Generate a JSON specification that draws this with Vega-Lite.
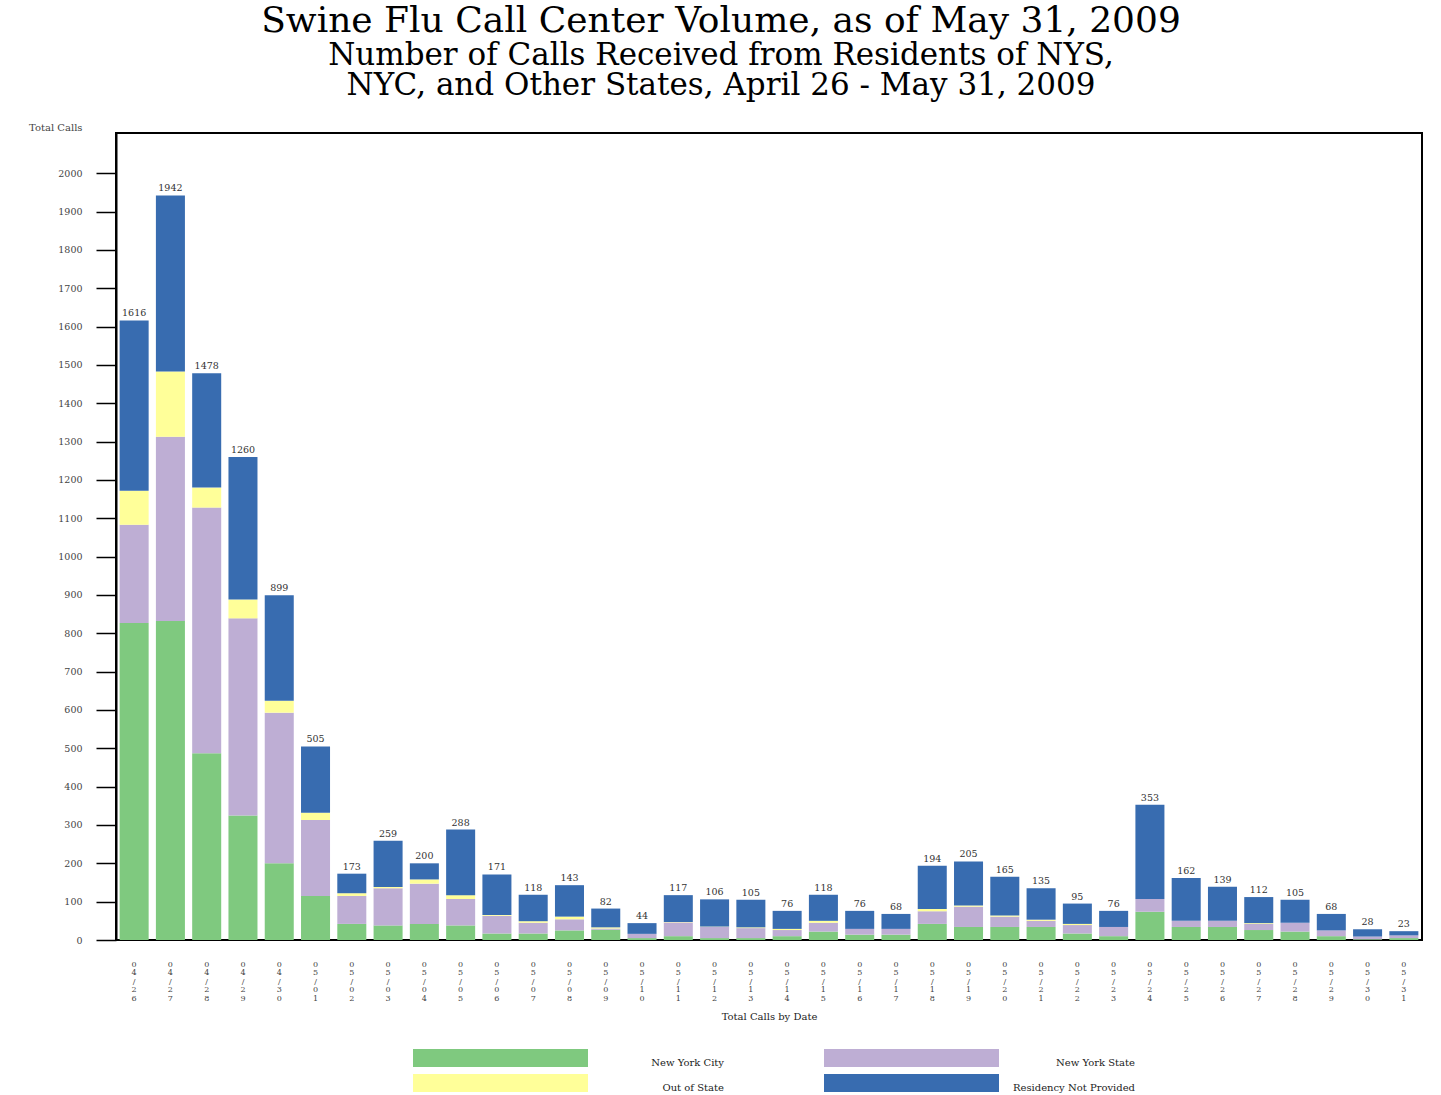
{
  "$schema": "https://vega.github.io/schema/vega-lite/v6.json",
  "width": 1306,
  "height": 807,
  "autosize": {"type": "none"},
  "padding": {"left": 116, "top": 133, "right": 19, "bottom": 155},
  "background": "white",
  "title": {
    "text": "Swine Flu Call Center Volume, as of May 31, 2009",
    "subtitle": ["Number of Calls Received from Residents of NYS,", "NYC, and Other States, April 26 - May 31, 2009"],
    "font": "DejaVu Serif",
    "fontSize": 36,
    "fontWeight": "normal",
    "color": "black",
    "subtitleFont": "DejaVu Serif",
    "subtitleFontSize": 31,
    "subtitleColor": "black",
    "subtitleLineHeight": 30,
    "subtitlePadding": 1,
    "anchor": "middle",
    "frame": "group",
    "dx": -48,
    "offset": 20
  },
  "data": {
    "values": [
      {"date": "04/26", "cat": "New York City", "n": 827}, {"date": "04/26", "cat": "New York State", "n": 256}, {"date": "04/26", "cat": "Out of State", "n": 89}, {"date": "04/26", "cat": "Residency Not Provided", "n": 444},
      {"date": "04/27", "cat": "New York City", "n": 832}, {"date": "04/27", "cat": "New York State", "n": 481}, {"date": "04/27", "cat": "Out of State", "n": 170}, {"date": "04/27", "cat": "Residency Not Provided", "n": 459},
      {"date": "04/28", "cat": "New York City", "n": 487}, {"date": "04/28", "cat": "New York State", "n": 641}, {"date": "04/28", "cat": "Out of State", "n": 52}, {"date": "04/28", "cat": "Residency Not Provided", "n": 298},
      {"date": "04/29", "cat": "New York City", "n": 325}, {"date": "04/29", "cat": "New York State", "n": 514}, {"date": "04/29", "cat": "Out of State", "n": 49}, {"date": "04/29", "cat": "Residency Not Provided", "n": 372},
      {"date": "04/30", "cat": "New York City", "n": 200}, {"date": "04/30", "cat": "New York State", "n": 393}, {"date": "04/30", "cat": "Out of State", "n": 31}, {"date": "04/30", "cat": "Residency Not Provided", "n": 275},
      {"date": "05/01", "cat": "New York City", "n": 115}, {"date": "05/01", "cat": "New York State", "n": 198}, {"date": "05/01", "cat": "Out of State", "n": 19}, {"date": "05/01", "cat": "Residency Not Provided", "n": 173},
      {"date": "05/02", "cat": "New York City", "n": 42}, {"date": "05/02", "cat": "New York State", "n": 73}, {"date": "05/02", "cat": "Out of State", "n": 7}, {"date": "05/02", "cat": "Residency Not Provided", "n": 51},
      {"date": "05/03", "cat": "New York City", "n": 38}, {"date": "05/03", "cat": "New York State", "n": 97}, {"date": "05/03", "cat": "Out of State", "n": 3}, {"date": "05/03", "cat": "Residency Not Provided", "n": 121},
      {"date": "05/04", "cat": "New York City", "n": 42}, {"date": "05/04", "cat": "New York State", "n": 105}, {"date": "05/04", "cat": "Out of State", "n": 11}, {"date": "05/04", "cat": "Residency Not Provided", "n": 42},
      {"date": "05/05", "cat": "New York City", "n": 38}, {"date": "05/05", "cat": "New York State", "n": 69}, {"date": "05/05", "cat": "Out of State", "n": 10}, {"date": "05/05", "cat": "Residency Not Provided", "n": 171},
      {"date": "05/06", "cat": "New York City", "n": 17}, {"date": "05/06", "cat": "New York State", "n": 46}, {"date": "05/06", "cat": "Out of State", "n": 2}, {"date": "05/06", "cat": "Residency Not Provided", "n": 106},
      {"date": "05/07", "cat": "New York City", "n": 17}, {"date": "05/07", "cat": "New York State", "n": 28}, {"date": "05/07", "cat": "Out of State", "n": 4}, {"date": "05/07", "cat": "Residency Not Provided", "n": 69},
      {"date": "05/08", "cat": "New York City", "n": 25}, {"date": "05/08", "cat": "New York State", "n": 29}, {"date": "05/08", "cat": "Out of State", "n": 7}, {"date": "05/08", "cat": "Residency Not Provided", "n": 82},
      {"date": "05/09", "cat": "New York City", "n": 27}, {"date": "05/09", "cat": "New York State", "n": 3}, {"date": "05/09", "cat": "Out of State", "n": 3}, {"date": "05/09", "cat": "Residency Not Provided", "n": 49},
      {"date": "05/10", "cat": "New York City", "n": 5}, {"date": "05/10", "cat": "New York State", "n": 11}, {"date": "05/10", "cat": "Out of State", "n": 0}, {"date": "05/10", "cat": "Residency Not Provided", "n": 28},
      {"date": "05/11", "cat": "New York City", "n": 10}, {"date": "05/11", "cat": "New York State", "n": 36}, {"date": "05/11", "cat": "Out of State", "n": 1}, {"date": "05/11", "cat": "Residency Not Provided", "n": 70},
      {"date": "05/12", "cat": "New York City", "n": 5}, {"date": "05/12", "cat": "New York State", "n": 29}, {"date": "05/12", "cat": "Out of State", "n": 1}, {"date": "05/12", "cat": "Residency Not Provided", "n": 71},
      {"date": "05/13", "cat": "New York City", "n": 5}, {"date": "05/13", "cat": "New York State", "n": 26}, {"date": "05/13", "cat": "Out of State", "n": 2}, {"date": "05/13", "cat": "Residency Not Provided", "n": 72},
      {"date": "05/14", "cat": "New York City", "n": 10}, {"date": "05/14", "cat": "New York State", "n": 16}, {"date": "05/14", "cat": "Out of State", "n": 3}, {"date": "05/14", "cat": "Residency Not Provided", "n": 47},
      {"date": "05/15", "cat": "New York City", "n": 22}, {"date": "05/15", "cat": "New York State", "n": 23}, {"date": "05/15", "cat": "Out of State", "n": 5}, {"date": "05/15", "cat": "Residency Not Provided", "n": 68},
      {"date": "05/16", "cat": "New York City", "n": 14}, {"date": "05/16", "cat": "New York State", "n": 15}, {"date": "05/16", "cat": "Out of State", "n": 0}, {"date": "05/16", "cat": "Residency Not Provided", "n": 47},
      {"date": "05/17", "cat": "New York City", "n": 14}, {"date": "05/17", "cat": "New York State", "n": 15}, {"date": "05/17", "cat": "Out of State", "n": 0}, {"date": "05/17", "cat": "Residency Not Provided", "n": 39},
      {"date": "05/18", "cat": "New York City", "n": 42}, {"date": "05/18", "cat": "New York State", "n": 33}, {"date": "05/18", "cat": "Out of State", "n": 6}, {"date": "05/18", "cat": "Residency Not Provided", "n": 113},
      {"date": "05/19", "cat": "New York City", "n": 34}, {"date": "05/19", "cat": "New York State", "n": 53}, {"date": "05/19", "cat": "Out of State", "n": 3}, {"date": "05/19", "cat": "Residency Not Provided", "n": 115},
      {"date": "05/20", "cat": "New York City", "n": 34}, {"date": "05/20", "cat": "New York State", "n": 27}, {"date": "05/20", "cat": "Out of State", "n": 3}, {"date": "05/20", "cat": "Residency Not Provided", "n": 101},
      {"date": "05/21", "cat": "New York City", "n": 34}, {"date": "05/21", "cat": "New York State", "n": 16}, {"date": "05/21", "cat": "Out of State", "n": 3}, {"date": "05/21", "cat": "Residency Not Provided", "n": 82},
      {"date": "05/22", "cat": "New York City", "n": 17}, {"date": "05/22", "cat": "New York State", "n": 22}, {"date": "05/22", "cat": "Out of State", "n": 3}, {"date": "05/22", "cat": "Residency Not Provided", "n": 53},
      {"date": "05/23", "cat": "New York City", "n": 10}, {"date": "05/23", "cat": "New York State", "n": 24}, {"date": "05/23", "cat": "Out of State", "n": 0}, {"date": "05/23", "cat": "Residency Not Provided", "n": 42},
      {"date": "05/24", "cat": "New York City", "n": 74}, {"date": "05/24", "cat": "New York State", "n": 33}, {"date": "05/24", "cat": "Out of State", "n": 0}, {"date": "05/24", "cat": "Residency Not Provided", "n": 246},
      {"date": "05/25", "cat": "New York City", "n": 34}, {"date": "05/25", "cat": "New York State", "n": 16}, {"date": "05/25", "cat": "Out of State", "n": 0}, {"date": "05/25", "cat": "Residency Not Provided", "n": 112},
      {"date": "05/26", "cat": "New York City", "n": 34}, {"date": "05/26", "cat": "New York State", "n": 16}, {"date": "05/26", "cat": "Out of State", "n": 0}, {"date": "05/26", "cat": "Residency Not Provided", "n": 89},
      {"date": "05/27", "cat": "New York City", "n": 26}, {"date": "05/27", "cat": "New York State", "n": 16}, {"date": "05/27", "cat": "Out of State", "n": 2}, {"date": "05/27", "cat": "Residency Not Provided", "n": 68},
      {"date": "05/28", "cat": "New York City", "n": 22}, {"date": "05/28", "cat": "New York State", "n": 23}, {"date": "05/28", "cat": "Out of State", "n": 0}, {"date": "05/28", "cat": "Residency Not Provided", "n": 60},
      {"date": "05/29", "cat": "New York City", "n": 10}, {"date": "05/29", "cat": "New York State", "n": 15}, {"date": "05/29", "cat": "Out of State", "n": 0}, {"date": "05/29", "cat": "Residency Not Provided", "n": 43},
      {"date": "05/30", "cat": "New York City", "n": 2}, {"date": "05/30", "cat": "New York State", "n": 7}, {"date": "05/30", "cat": "Out of State", "n": 0}, {"date": "05/30", "cat": "Residency Not Provided", "n": 19},
      {"date": "05/31", "cat": "New York City", "n": 5}, {"date": "05/31", "cat": "New York State", "n": 7}, {"date": "05/31", "cat": "Out of State", "n": 0}, {"date": "05/31", "cat": "Residency Not Provided", "n": 11}
    ]
  },
  "encoding": {
    "x": {
      "field": "date",
      "type": "nominal",
      "sort": null,
      "scale": {"paddingInner": 0.2, "paddingOuter": 0.1},
      "axis": {
        "title": "Total Calls by Date",
        "labelExpr": "split(datum.label, '')",
        "labelAngle": 0,
        "labelAlign": "center",
        "labelBaseline": "top",
        "labelFont": "DejaVu Serif",
        "labelFontSize": 8,
        "labelLineHeight": 8.5,
        "labelColor": "#444",
        "labelPadding": 20,
        "ticks": false,
        "domain": false,
        "titleFont": "DejaVu Serif",
        "titleFontSize": 10,
        "titleFontWeight": "normal",
        "titleColor": "#222",
        "titlePadding": 9
      }
    }
  },
  "layer": [
    {
      "mark": {"type": "bar"},
      "encoding": {
        "y": {
          "field": "n",
          "type": "quantitative",
          "stack": "zero",
          "scale": {"domain": [0, 2105], "nice": false},
          "axis": {
            "title": "Total Calls",
            "values": [0, 50, 100, 150, 200, 250, 300, 350, 400, 450, 500, 550, 600, 650, 700, 750, 800, 850, 900, 950, 1000, 1050, 1100, 1150, 1200, 1250, 1300, 1350, 1400, 1450, 1500, 1550, 1600, 1650, 1700, 1750, 1800, 1850, 1900, 1950, 2000],
            "labelExpr": "datum.value % 100 === 0 ? datum.label : ''",
            "format": "d",
            "tickSize": {"condition": {"test": "datum.value % 100 === 0", "value": 20}, "value": 9},
            "tickColor": "black",
            "tickWidth": 1.5,
            "domainColor": "black",
            "domainWidth": 2,
            "grid": false,
            "labelFont": "DejaVu Serif",
            "labelFontSize": 9.5,
            "labelColor": "#444",
            "labelPadding": 14,
            "labelOverlap": false,
            "titleAngle": 0,
            "titleAlign": "right",
            "titleBaseline": "bottom",
            "titleX": -34,
            "titleY": -1,
            "titleFont": "DejaVu Serif",
            "titleFontSize": 10,
            "titleFontWeight": "normal",
            "titleColor": "#444"
          }
        },
        "color": {
          "field": "cat",
          "type": "nominal",
          "scale": {
            "domain": ["New York City", "New York State", "Out of State", "Residency Not Provided"],
            "range": ["#7fc97f", "#beaed4", "#ffff99", "#386cb0"]
          },
          "legend": {
            "title": null,
            "orient": "none",
            "legendX": 297,
            "legendY": 916,
            "direction": "horizontal",
            "columns": 2,
            "symbolType": "M-1,-0.103L1,-0.103L1,0.103L-1,0.103Z",
            "symbolSize": 30625,
            "symbolStrokeWidth": 0,
            "symbolOpacity": 1,
            "clipHeight": 18,
            "labelAlign": "right",
            "labelBaseline": "top",
            "labelOffset": 136,
            "labelFont": "DejaVu Serif",
            "labelFontSize": 10,
            "labelColor": "#222",
            "labelLimit": 300,
            "columnPadding": 100,
            "rowPadding": 6
          }
        },
        "order": {"field": "cat", "sort": "ascending"}
      }
    },
    {
      "mark": {"type": "text", "dy": -2, "baseline": "bottom", "font": "DejaVu Serif", "fontSize": 9.5, "color": "#333"},
      "encoding": {
        "y": {"aggregate": "sum", "field": "n", "type": "quantitative", "title": "Total Calls"},
        "text": {"aggregate": "sum", "field": "n", "type": "quantitative"}
      }
    }
  ],
  "config": {
    "view": {"stroke": "black", "strokeWidth": 2}
  }
}
